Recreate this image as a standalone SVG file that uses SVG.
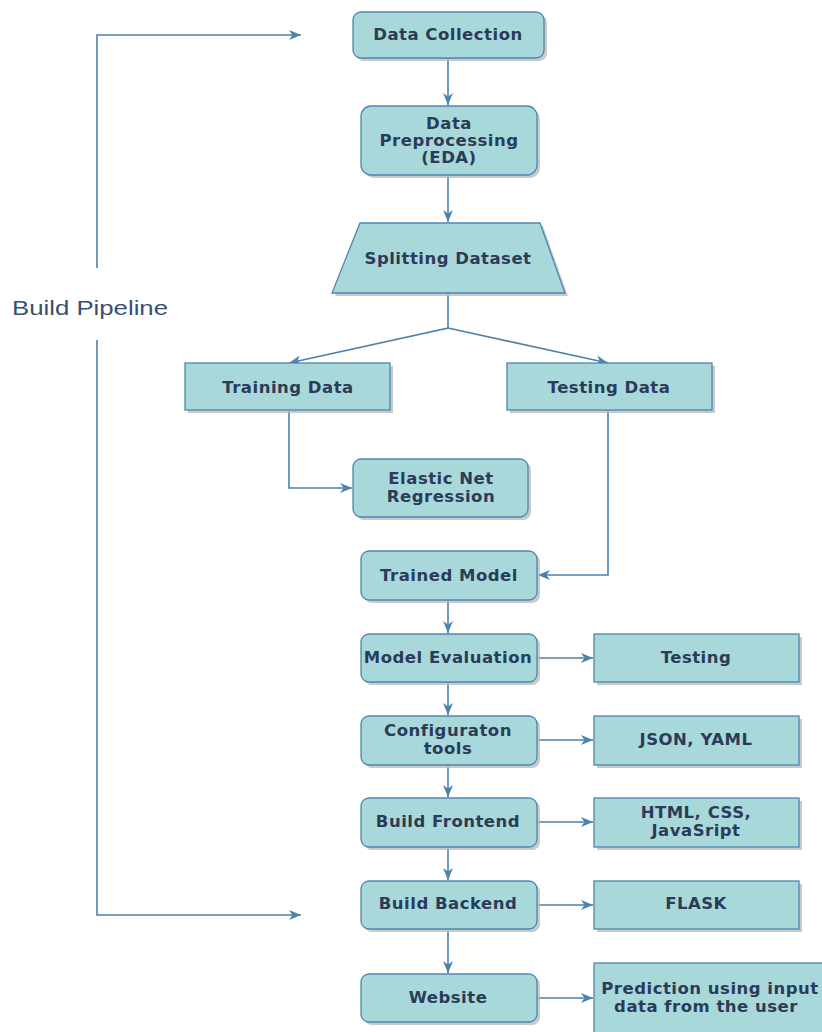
<svg xmlns="http://www.w3.org/2000/svg" width="822" height="1032" viewBox="0 0 822 1032">
<style>
.n{fill:#a8d8da;stroke:#4f86ad;stroke-width:1.3}
.s{fill:#b9bcbf;opacity:.8}
.t{font-family:"DejaVu Sans",Verdana,sans-serif;font-weight:bold;font-size:16.5px;letter-spacing:0.5px;fill:#2b3b58;text-anchor:middle}
.c{fill:none;stroke:#4d83aa;stroke-width:1.6}
.lbl{font-family:"Liberation Sans",Arial,sans-serif;font-size:21px;fill:#3a4f70}
</style>
<defs>
<marker id="a" markerUnits="userSpaceOnUse" markerWidth="14" markerHeight="12" refX="12" refY="6" orient="auto">
<path d="M0,1 L12,6 L0,11 L3.5,6 z" fill="#4d83aa"/>
</marker>
</defs>
<rect width="822" height="1032" fill="#ffffff"/>
<g id="connectors">
<path class="c" d="M448,58 V105" marker-end="url(#a)"/>
<path class="c" d="M448,175 V222" marker-end="url(#a)"/>
<path class="c" d="M448,293 V328 L289,363" marker-end="url(#a)"/>
<path class="c" d="M448,328 L608,363" marker-end="url(#a)"/>
<path class="c" d="M289,410 V488 H352" marker-end="url(#a)"/>
<path class="c" d="M608,410 V575 H538" marker-end="url(#a)"/>
<path class="c" d="M448,600 V633" marker-end="url(#a)"/>
<path class="c" d="M448,682 V715" marker-end="url(#a)"/>
<path class="c" d="M448,765 V797" marker-end="url(#a)"/>
<path class="c" d="M448,847 V880" marker-end="url(#a)"/>
<path class="c" d="M448,929 V973" marker-end="url(#a)"/>
<path class="c" d="M537,658 H593" marker-end="url(#a)"/>
<path class="c" d="M537,740 H593" marker-end="url(#a)"/>
<path class="c" d="M537,822 H593" marker-end="url(#a)"/>
<path class="c" d="M537,905 H593" marker-end="url(#a)"/>
<path class="c" d="M537,998 H593" marker-end="url(#a)"/>
<path class="c" d="M97,268 V35 H301" marker-end="url(#a)"/>
<path class="c" d="M97,340 V915 H301" marker-end="url(#a)"/>
</g>
<g id="build-pipeline">
<text class="lbl" x="12" y="315" textLength="156" lengthAdjust="spacingAndGlyphs">Build Pipeline</text>
</g>
<g id="data-collection">
<rect class="s" x="356" y="15" width="191" height="46" rx="8"/>
<rect class="n" x="353" y="12" width="191" height="46" rx="8"/>
<text class="t" x="448" y="40">Data Collection</text>
</g>
<g id="data-preprocessing">
<rect class="s" x="364" y="109" width="176" height="69" rx="10"/>
<rect class="n" x="361" y="106" width="176" height="69" rx="10"/>
<text class="t" x="449" y="129">Data</text>
<text class="t" x="449" y="146">Preprocessing</text>
<text class="t" x="449" y="163">(EDA)</text>
</g>
<g id="splitting-dataset">
<polygon class="s" points="363,226 543,226 568,296 335,296"/>
<polygon class="n" points="360,223 540,223 565,293 332,293"/>
<text class="t" x="448" y="264">Splitting Dataset</text>
</g>
<g id="training-data">
<rect class="s" x="188" y="366" width="205" height="47"/>
<rect class="n" x="185" y="363" width="205" height="47"/>
<text class="t" x="288" y="393">Training Data</text>
</g>
<g id="testing-data">
<rect class="s" x="510" y="366" width="205" height="47"/>
<rect class="n" x="507" y="363" width="205" height="47"/>
<text class="t" x="609" y="393">Testing Data</text>
</g>
<g id="elastic-net">
<rect class="s" x="356" y="462" width="175" height="58" rx="8"/>
<rect class="n" x="353" y="459" width="175" height="58" rx="8"/>
<text class="t" x="441" y="484">Elastic Net</text>
<text class="t" x="441" y="502">Regression</text>
</g>
<g id="trained-model">
<rect class="s" x="364" y="554" width="176" height="49" rx="8"/>
<rect class="n" x="361" y="551" width="176" height="49" rx="8"/>
<text class="t" x="449" y="581">Trained Model</text>
</g>
<g id="model-evaluation">
<rect class="s" x="364" y="637" width="176" height="48" rx="8"/>
<rect class="n" x="361" y="634" width="176" height="48" rx="8"/>
<text class="t" x="448" y="663">Model Evaluation</text>
</g>
<g id="testing">
<rect class="s" x="597" y="637" width="205" height="48"/>
<rect class="n" x="594" y="634" width="205" height="48"/>
<text class="t" x="696" y="663">Testing</text>
</g>
<g id="configuration-tools">
<rect class="s" x="364" y="719" width="176" height="49" rx="8"/>
<rect class="n" x="361" y="716" width="176" height="49" rx="8"/>
<text class="t" x="448" y="736">Configuraton</text>
<text class="t" x="448" y="754">tools</text>
</g>
<g id="json-yaml">
<rect class="s" x="597" y="719" width="205" height="49"/>
<rect class="n" x="594" y="716" width="205" height="49"/>
<text class="t" x="696" y="745">JSON, YAML</text>
</g>
<g id="build-frontend">
<rect class="s" x="364" y="801" width="176" height="49" rx="8"/>
<rect class="n" x="361" y="798" width="176" height="49" rx="8"/>
<text class="t" x="448" y="827">Build Frontend</text>
</g>
<g id="html-css-js">
<rect class="s" x="597" y="801" width="205" height="49"/>
<rect class="n" x="594" y="798" width="205" height="49"/>
<text class="t" x="696" y="818">HTML, CSS,</text>
<text class="t" x="696" y="836">JavaSript</text>
</g>
<g id="build-backend">
<rect class="s" x="364" y="884" width="176" height="48" rx="8"/>
<rect class="n" x="361" y="881" width="176" height="48" rx="8"/>
<text class="t" x="448" y="909">Build Backend</text>
</g>
<g id="flask">
<rect class="s" x="597" y="884" width="205" height="48"/>
<rect class="n" x="594" y="881" width="205" height="48"/>
<text class="t" x="696" y="909">FLASK</text>
</g>
<g id="website">
<rect class="s" x="364" y="977" width="176" height="48" rx="8"/>
<rect class="n" x="361" y="974" width="176" height="48" rx="8"/>
<text class="t" x="448" y="1003">Website</text>
</g>
<g id="prediction">
<rect class="n" x="594" y="963" width="240" height="80"/>
<text class="t" x="710" y="994">Prediction using input</text>
<text class="t" x="706" y="1012">data from the user</text>
</g>
</svg>
